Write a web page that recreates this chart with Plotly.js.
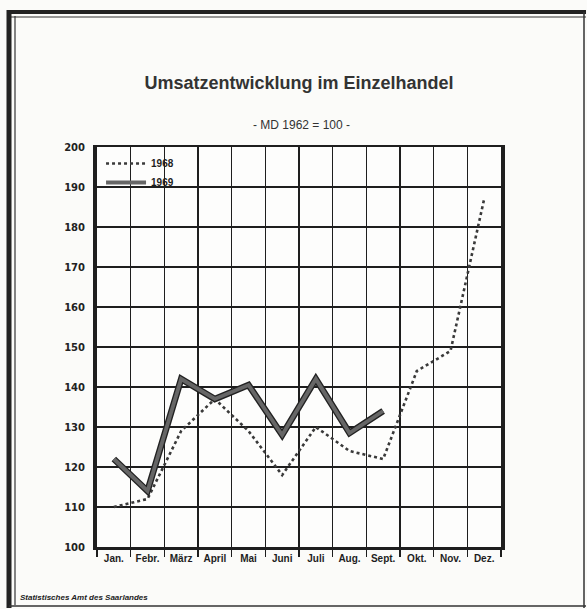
<!DOCTYPE html>
<html>
<head>
<meta charset="utf-8">
<script src="https://cdn.plot.ly/plotly-3.0.1.min.js"></script>
<style>
  html, body { margin: 0; padding: 0; background: #fbfbf9; }
  #chart { width: 587px; height: 609px; }
</style>
</head>
<body>
<div id="chart"></div>
<script>
const months = ["Jan.", "Febr.", "März", "April", "Mai", "Juni", "Juli", "Aug.", "Sept.", "Okt.", "Nov.", "Dez."];
const values1968 = [110, 112, 129, 137, 129, 118, 130, 124, 122, 144, 149, 187];
const months1969 = ["Jan.", "Febr.", "März", "April", "Mai", "Juni", "Juli", "Aug.", "Sept."];
const values1969 = [122, 114, 142, 137, 140.5, 128, 142, 128.5, 134];
const yTicks = [100, 110, 120, 130, 140, 150, 160, 170, 180, 190, 200];

const ink = "#1e1e1e";
const bg = "#fdfdfc";

const traces = [
  {
    x: months, y: values1968, name: "1968", type: "scatter", mode: "lines",
    line: { color: "#3a3a3a", width: 2.6, dash: "dot" }, legendrank: 1
  },
  {
    x: months1969, y: values1969, name: "1969", type: "scatter", mode: "lines",
    line: { color: "#222", width: 6.5 }, showlegend: false, legendgroup: "g69", hoverinfo: "skip"
  },
  {
    x: months1969, y: values1969, name: "1969", type: "scatter", mode: "lines",
    line: { color: "#666", width: 3.8 }, legendgroup: "g69", legendrank: 2
  }
];

const layout = {
  width: 587, height: 609,
  paper_bgcolor: "#fbfbf9",
  plot_bgcolor: bg,
  margin: { l: 97, r: 86, t: 147, b: 62 },
  showlegend: true,
  title: {
    text: "<b>Umsatzentwicklung im Einzelhandel</b>",
    x: 0.5, xref: "paper", xanchor: "center",
    y: 1 - 83 / 609, yref: "container", yanchor: "middle",
    font: { family: "Liberation Sans, Arial, sans-serif", size: 18, color: "#333" }
  },
  legend: {
    x: 0.01, y: 0.995, xanchor: "left", yanchor: "top",
    bgcolor: "rgba(0,0,0,0)", borderwidth: 0,
    font: { family: "Liberation Sans Narrow, Liberation Sans, sans-serif", size: 10, color: ink, weight: "bold" },
    itemwidth: 40, tracegroupgap: 0
  },
  xaxis: {
    type: "category",
    categoryorder: "array", categoryarray: months,
    range: [-0.5, 11.5],
    tickson: "boundaries",
    tickangle: 0,
    ticks: "outside", ticklen: 7, tickwidth: 1.5, tickcolor: ink,
    showgrid: true, gridcolor: ink, gridwidth: 1.3,
    showline: true, linecolor: ink, linewidth: 2.5, mirror: true,
    tickfont: { family: "Liberation Sans Narrow, Liberation Sans, sans-serif", size: 10, color: ink, weight: "bold" },
    fixedrange: true
  },
  yaxis: {
    range: [100, 200],
    tickvals: yTicks,
    ticktext: yTicks.map(String),
    ticks: "", ticklabelstandoff: 6,
    showgrid: true, gridcolor: ink, gridwidth: 1.3,
    showline: true, linecolor: ink, linewidth: 4, mirror: true,
    zeroline: false,
    tickfont: { family: "DejaVu Sans, sans-serif", size: 10, color: "#222", weight: "bold" },
    fixedrange: true
  },
  yaxis2: {
    overlaying: "y", side: "right", anchor: "x",
    range: [100, 200],
    tickvals: yTicks,
    ticktext: yTicks.map(String),
    ticks: "", ticklabelstandoff: 8,
    showgrid: false, showline: false, zeroline: false,
    tickfont: { family: "DejaVu Sans, sans-serif", size: 10, color: "#333" },
    fixedrange: true
  },
  annotations: [
    {
      text: "- MD 1962 = 100 -", xref: "paper", yref: "paper",
      x: 0.505, y: (547 - 125) / 400, xanchor: "center", yanchor: "middle",
      showarrow: false,
      font: { family: "Liberation Sans Narrow, Liberation Sans, sans-serif", size: 12, color: "#333" }
    },
    {
      text: "<b><i>Statistisches Amt des Saarlandes</i></b>", xref: "paper", yref: "paper",
      x: (18 - 97) / 404, y: (547 - 597) / 400, xanchor: "left", yanchor: "middle",
      showarrow: false,
      font: { family: "Liberation Sans, Arial, sans-serif", size: 8, color: "#222" }
    }
  ],
  shapes: [
    { type: "rect", xref: "paper", yref: "paper", layer: "between",
      x0: 0.004, x1: (197 - 97) / 404, y0: (547 - 188) / 400, y1: 0.997,
      fillcolor: bg, line: { width: 0 } },
    { type: "line", xref: "paper", yref: "paper",
      x0: (7 - 97) / 404, x1: (586 - 97) / 404, y0: (547 - 12) / 400, y1: (547 - 12) / 400,
      line: { color: "#222", width: 4 } },
    { type: "line", xref: "paper", yref: "paper",
      x0: (10 - 97) / 404, x1: (586 - 97) / 404, y0: (547 - 17) / 400, y1: (547 - 17) / 400,
      line: { color: "#333", width: 1.2 } },
    { type: "line", xref: "paper", yref: "paper",
      x0: (9 - 97) / 404, x1: (9 - 97) / 404, y0: (547 - 10) / 400, y1: (547 - 608) / 400,
      line: { color: "#222", width: 5 } },
    { type: "line", xref: "paper", yref: "paper",
      x0: (15 - 97) / 404, x1: (15 - 97) / 404, y0: (547 - 16) / 400, y1: (547 - 605) / 400,
      line: { color: "#333", width: 1.2 } },
    { type: "line", xref: "paper", yref: "paper",
      x0: (584 - 97) / 404, x1: (584 - 97) / 404, y0: (547 - 12) / 400, y1: (547 - 608) / 400,
      line: { color: "#333", width: 1.5 } },
    { type: "line", xref: "paper", yref: "paper",
      x0: (9 - 97) / 404, x1: (586 - 97) / 404, y0: (547 - 606) / 400, y1: (547 - 606) / 400,
      line: { color: "#333", width: 1.5 } }
  ]
};

Plotly.newPlot("chart", traces, layout, { displayModeBar: false, staticPlot: true });
</script>
</body>
</html>
